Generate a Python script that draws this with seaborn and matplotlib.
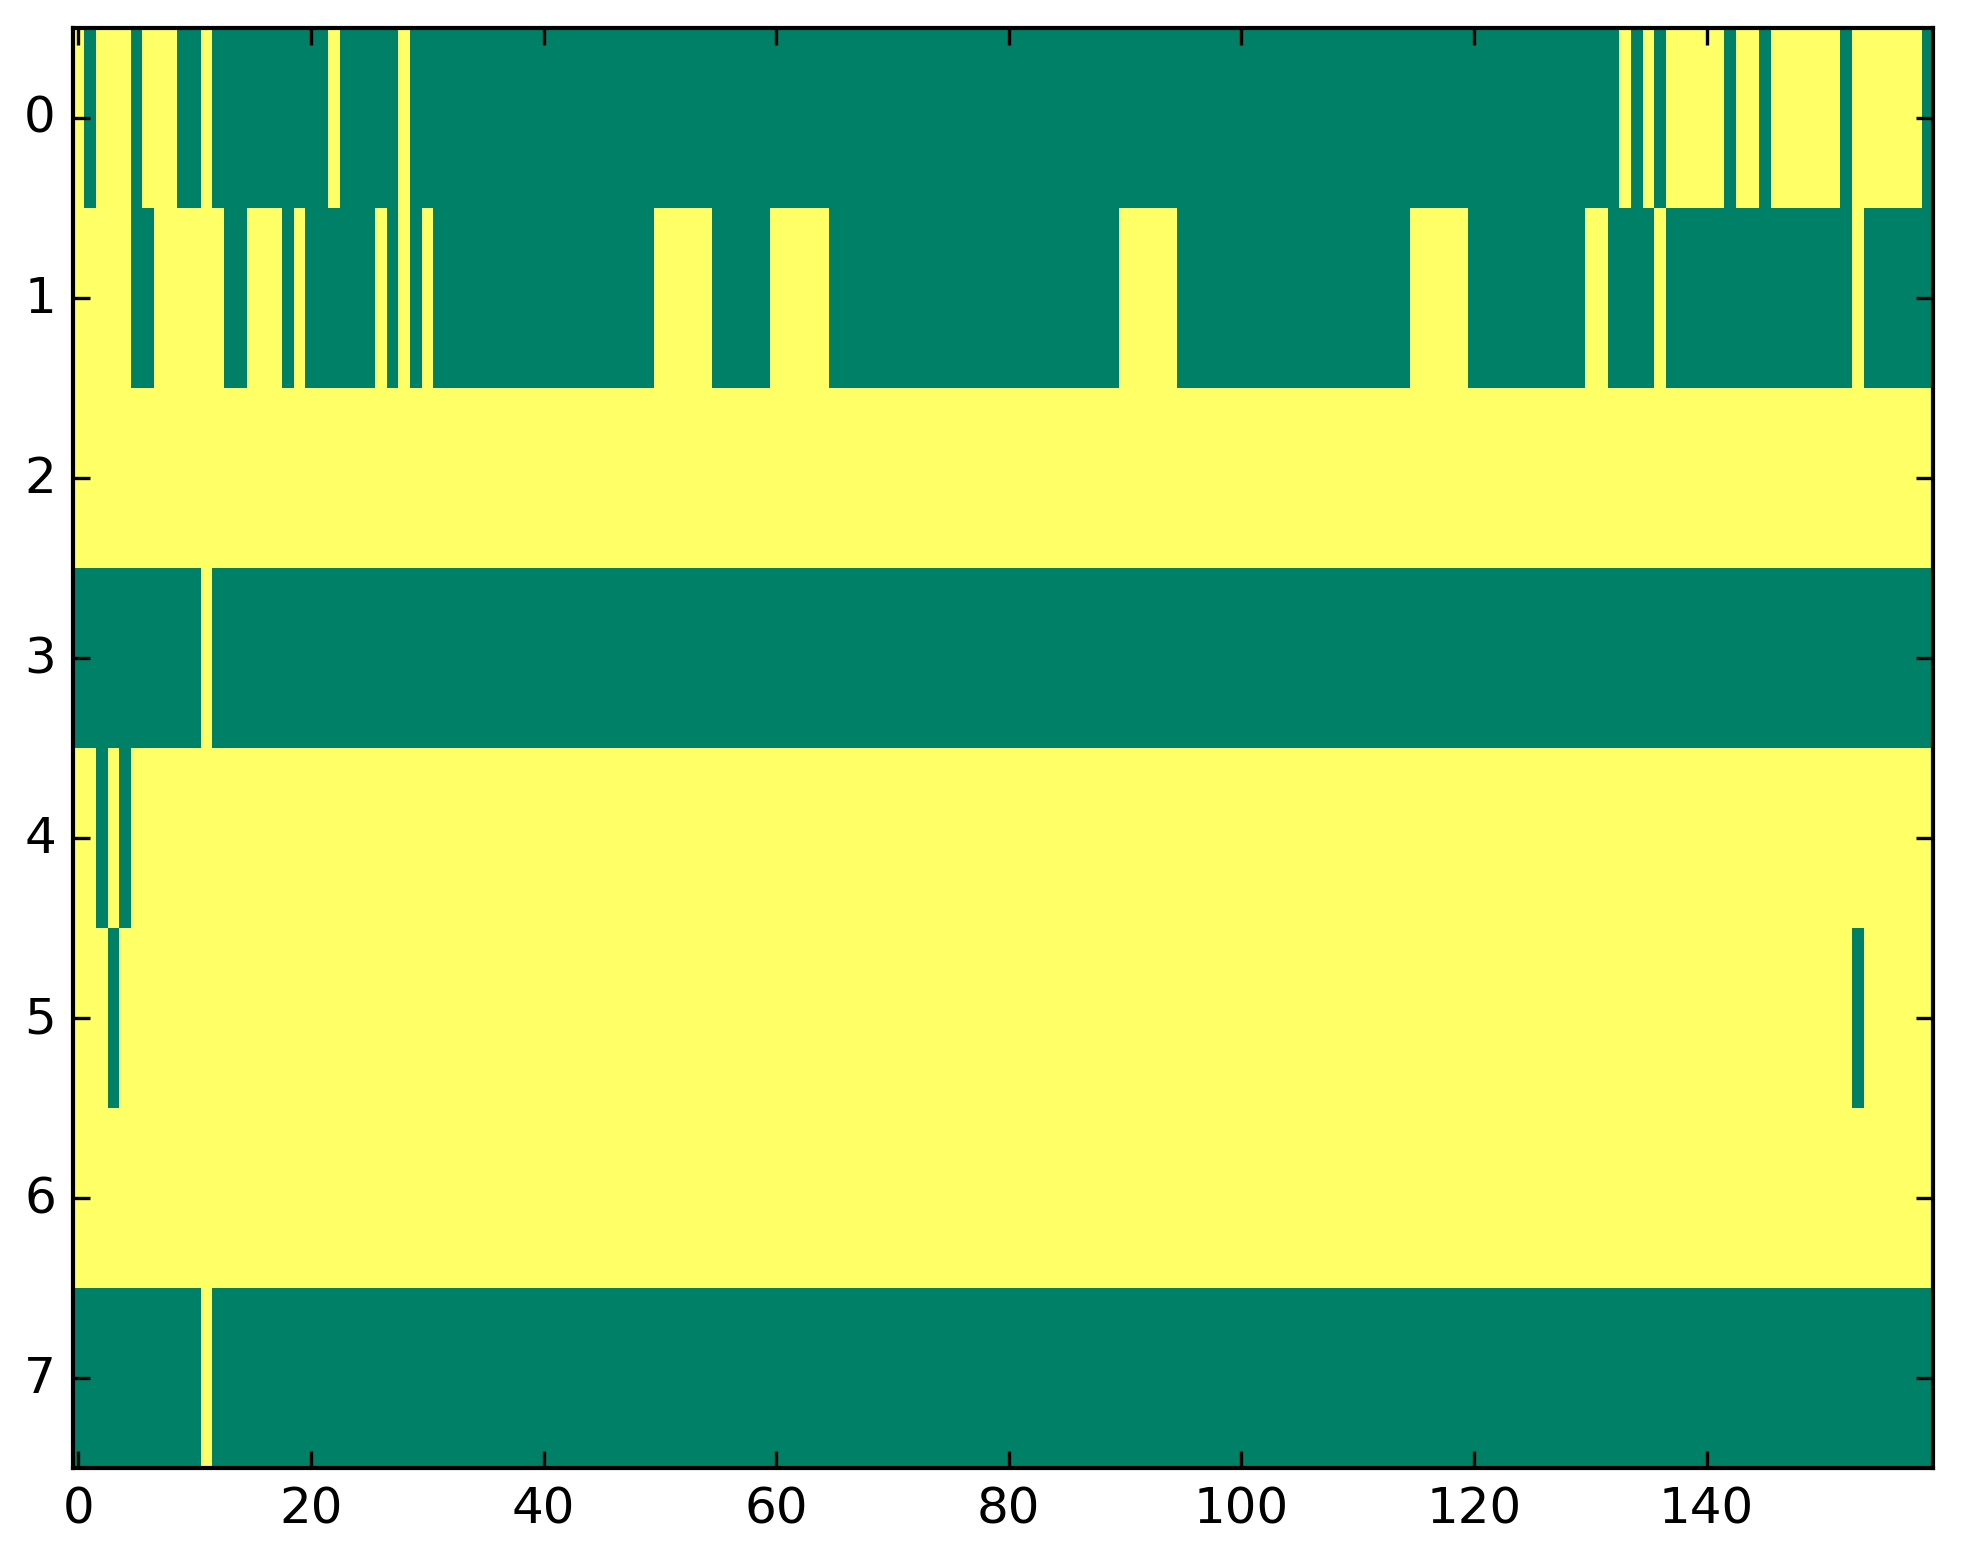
"""
Binary state map (8 channels x 160 samples) drawn as a seaborn heatmap
with the classic matplotlib look: summer colormap, inward ticks on all sides.
"""

import numpy as np
import matplotlib
matplotlib.use("Agg")
import matplotlib.pyplot as plt
import seaborn as sns

n_cols = 160
n_rows = 8

# base state of each row (0 = green, 1 = yellow)
row_base = [0, 0, 1, 0, 1, 1, 1, 0]

# columns where each row differs from its base state
row0_flip = [0, 2, 3, 4, 6, 7, 8, 11, 22, 28, 133, 135, 137, 138, 139, 140, 141,
             143, 144, 146, 147, 148, 149, 150, 151, 153, 154, 155, 156, 157, 158]
row1_flip = [0, 1, 2, 3, 4, 7, 8, 9, 10, 11, 12, 15, 16, 17, 19, 26, 28, 30,
             50, 51, 52, 53, 54, 60, 61, 62, 63, 64, 90, 91, 92, 93, 94,
             115, 116, 117, 118, 119, 130, 131, 136, 153]
row2_flip = []
row3_flip = [11]
row4_flip = [2, 4]
row5_flip = [3, 153]
row6_flip = []
row7_flip = [11]

x_ticks = [0, 20, 40, 60, 80, 100, 120, 140]
y_ticks = [0, 1, 2, 3, 4, 5, 6, 7]


def build_matrix():
    flips = [row0_flip, row1_flip, row2_flip, row3_flip,
             row4_flip, row5_flip, row6_flip, row7_flip]
    data = np.zeros((n_rows, n_cols))
    for r in range(n_rows):
        data[r, :] = row_base[r]
        for c in flips[r]:
            data[r, c] = 1 - row_base[r]
    return data


def main():
    plt.style.use("classic")
    plt.rcParams["font.family"] = ["DejaVu Sans"]
    plt.rcParams["font.size"] = 12

    data = build_matrix()

    fig = plt.figure(figsize=(6.543, 5.213), facecolor="white")
    ax = fig.add_axes([0.037, 0.0605, 0.948, 0.921])

    sns.heatmap(data, cmap="summer", vmin=0, vmax=1, cbar=False, ax=ax,
                linewidths=0)

    # classic imshow-like axes: ticks at cell centres, labelled by index
    ax.set_xticks([t + 0.5 for t in x_ticks])
    ax.set_xticklabels([str(t) for t in x_ticks], rotation=0)
    ax.set_yticks([t + 0.5 for t in y_ticks])
    ax.set_yticklabels([str(t) for t in y_ticks], rotation=0, va="center")
    ax.set_xlim(0, n_cols)
    ax.set_ylim(n_rows, 0)

    for spine in ax.spines.values():
        spine.set_visible(True)
        spine.set_linewidth(1.0)
        spine.set_color("black")

    ax.tick_params(direction="in", length=4, width=0.8, top=True, right=True,
                   bottom=True, left=True, labelsize=12, pad=4, colors="black")

    plt.savefig("out.png", dpi=300, facecolor="white")


if __name__ == "__main__":
    main()
